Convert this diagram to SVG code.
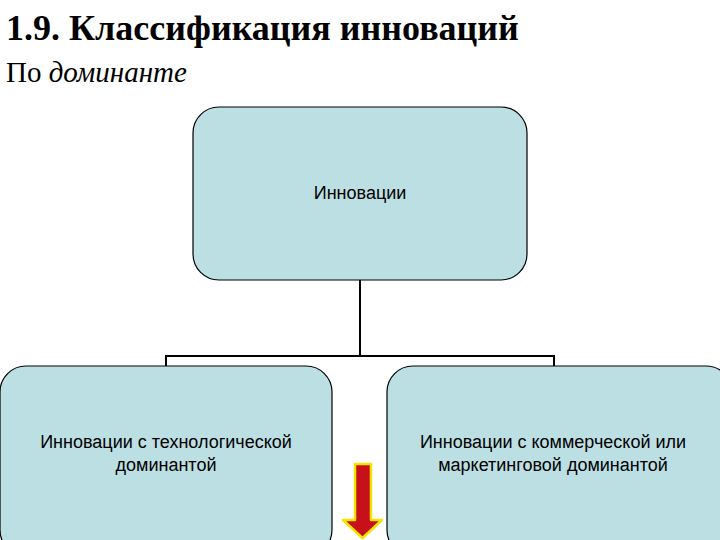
<svg xmlns="http://www.w3.org/2000/svg" width="720" height="540" viewBox="0 0 720 540">
<style>
.box{fill:#bbdfe3;stroke:#000;stroke-width:1.2}
.t{font-family:"Liberation Sans",Arial,sans-serif;font-size:18px;text-anchor:middle;fill:#000}
.h{font-family:"Liberation Serif","Times New Roman",serif;fill:#000}
</style>
<rect width="720" height="540" fill="#fff"/>
<text class="h" x="6" y="40" font-size="36" font-weight="bold">1.9. Классификация инноваций</text>
<text class="h" x="6" y="82" font-size="29">По <tspan font-style="italic">доминанте</tspan></text>
<g id="connectors" fill="none" stroke="#000" stroke-width="2">
<path d="M360 280V356M166 366V356H554V366"/>
</g>
<g id="n1"><rect class="box" x="193" y="107" width="334" height="173" rx="26"/><text class="t" x="360" y="199">Инновации</text></g>
<g id="n2"><rect class="box" x="0" y="366" width="332" height="190" rx="26"/><text class="t" x="166" y="448">Инновации с технологической</text><text class="t" x="166" y="471">доминантой</text></g>
<g id="n3"><rect class="box" x="387" y="366" width="345" height="190" rx="26"/><text class="t" x="553" y="448">Инновации с коммерческой или</text><text class="t" x="553" y="471">маркетинговой доминантой</text></g>
<g id="arrow"><path d="M355 464H371V520H382L362.5 538L343 520H355Z" fill="#c8101a" stroke="#f5e400" stroke-width="2.5" stroke-linejoin="round"/></g>
</svg>
